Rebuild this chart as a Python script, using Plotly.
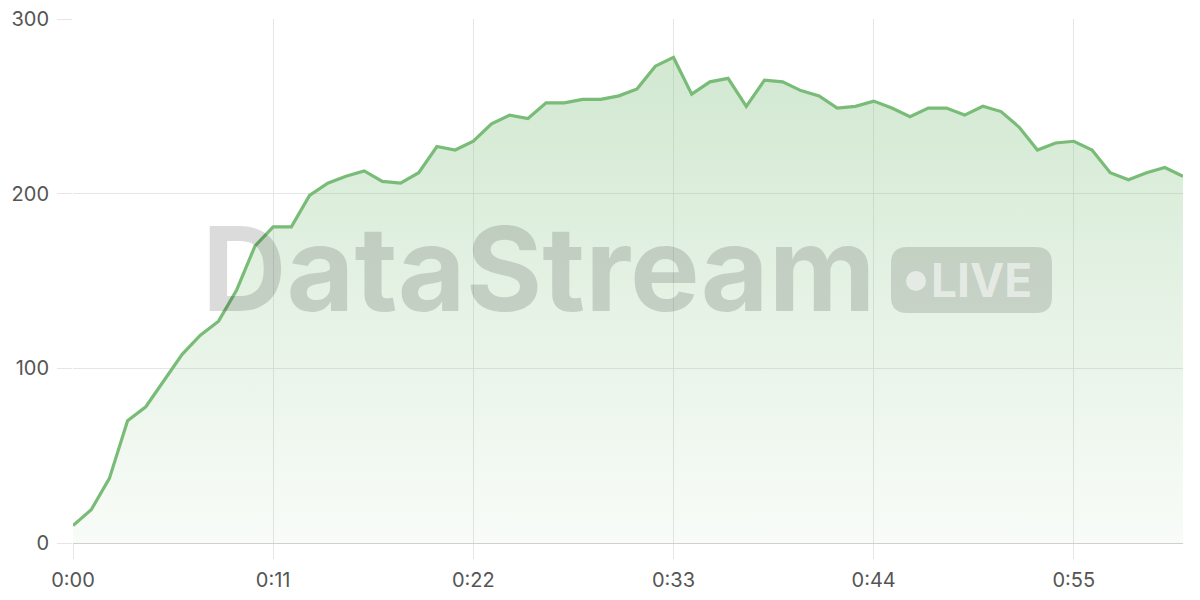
import plotly.graph_objects as go

# valores (um ponto por segundo)
valores = [10, 19, 37, 70, 78, 93, 108, 119, 127, 145,
           170, 181, 181, 199, 206, 210, 213, 207, 206, 212,
           227, 225, 230, 240, 245, 243, 252, 252, 254, 254,
           256, 260, 273, 278, 257, 264, 266, 250, 265, 264,
           259, 256, 249, 250, 253, 249, 244, 249, 249, 245,
           250, 247, 238, 225, 229, 230, 225, 212, 208, 212,
           215, 210]
segundos = list(range(len(valores)))

ticks_x = [0, 11, 22, 33, 44, 55]
labels_x = ['0:00', '0:11', '0:22', '0:33', '0:44', '0:55']
ticks_y = [0, 100, 200, 300]

style = {
    'font': 'Inter, Open Sans, sans-serif',
    'texto': '#555555',
    'grade': '#E6E6E6',
    'linha': '#79BC77',
}

fig = go.Figure()
fig.add_trace(go.Scatter(
    x=segundos,
    y=valores,
    mode='lines',
    line=dict(color=style['linha'], width=3.2),
    fill='tozeroy',
    fillgradient=dict(
        type='vertical',
        colorscale=[[0, 'rgba(121,188,119,0.05)'], [1, 'rgba(121,188,119,0.34)']],
    ),
    hoverinfo='skip',
    showlegend=False,
))

# marca d'agua
def px_x(p):
    return (p - 73) / 1110

def px_y(p):
    return (543 - p) / 524

x0, x1, y0, y1 = px_x(891), px_x(1052), px_y(313), px_y(247)
rx, ry = 16 / 1110, 16 / 524
pilula = (f'M {x0+rx},{y0} L {x1-rx},{y0} Q {x1},{y0} {x1},{y0+ry} '
          f'L {x1},{y1-ry} Q {x1},{y1} {x1-rx},{y1} L {x0+rx},{y1} '
          f'Q {x0},{y1} {x0},{y1-ry} L {x0},{y0+ry} Q {x0},{y0} {x0+rx},{y0} Z')
fig.add_shape(type='path', path=pilula, xref='paper', yref='paper',
              fillcolor='rgba(0,0,0,0.13)', line_width=0, layer='above')
fig.add_shape(type='circle', xref='paper', yref='paper',
              x0=px_x(906), x1=px_x(926), y0=px_y(291), y1=px_y(271),
              fillcolor='rgba(255,255,255,0.55)', line_width=0, layer='above')

fig.add_annotation(text='<b>DataStream</b>', xref='paper', yref='paper',
                   x=px_x(539), y=px_y(268), xanchor='center', yanchor='middle',
                   showarrow=False,
                   font=dict(family=style['font'], size=117, color='rgba(0,0,0,0.14)'))
fig.add_annotation(text='<b>LIVE</b>', xref='paper', yref='paper',
                   x=px_x(981), y=px_y(280), xanchor='center', yanchor='middle',
                   showarrow=False,
                   font=dict(family=style['font'], size=46, color='rgba(255,255,255,0.55)'))

fig.update_layout(
    width=1200,
    height=600,
    margin=dict(l=73, r=17, t=19, b=57),
    plot_bgcolor='white',
    paper_bgcolor='white',
    font_family=style['font'],
    font_color=style['texto'],
    font_size=20,
)
fig.update_xaxes(
    range=[0, 61],
    tickvals=ticks_x,
    ticktext=labels_x,
    showgrid=True,
    gridcolor=style['grade'],
    ticks='outside',
    ticklen=15,
    tickcolor=style['grade'],
    ticklabelstandoff=4,
    showline=True,
    linecolor='#D0D0D0',
    linewidth=1,
    zeroline=False,
    automargin=False,
)
fig.update_yaxes(
    range=[0, 300],
    tickvals=ticks_y,
    showgrid=True,
    gridcolor=style['grade'],
    ticks='outside',
    ticklen=15,
    tickcolor=style['grade'],
    ticklabelstandoff=4,
    zeroline=False,
    showline=False,
    automargin=False,
)
fig.write_html('out.html', config={'displayModeBar': False},
               post_script="document.body.style.margin='0';")
